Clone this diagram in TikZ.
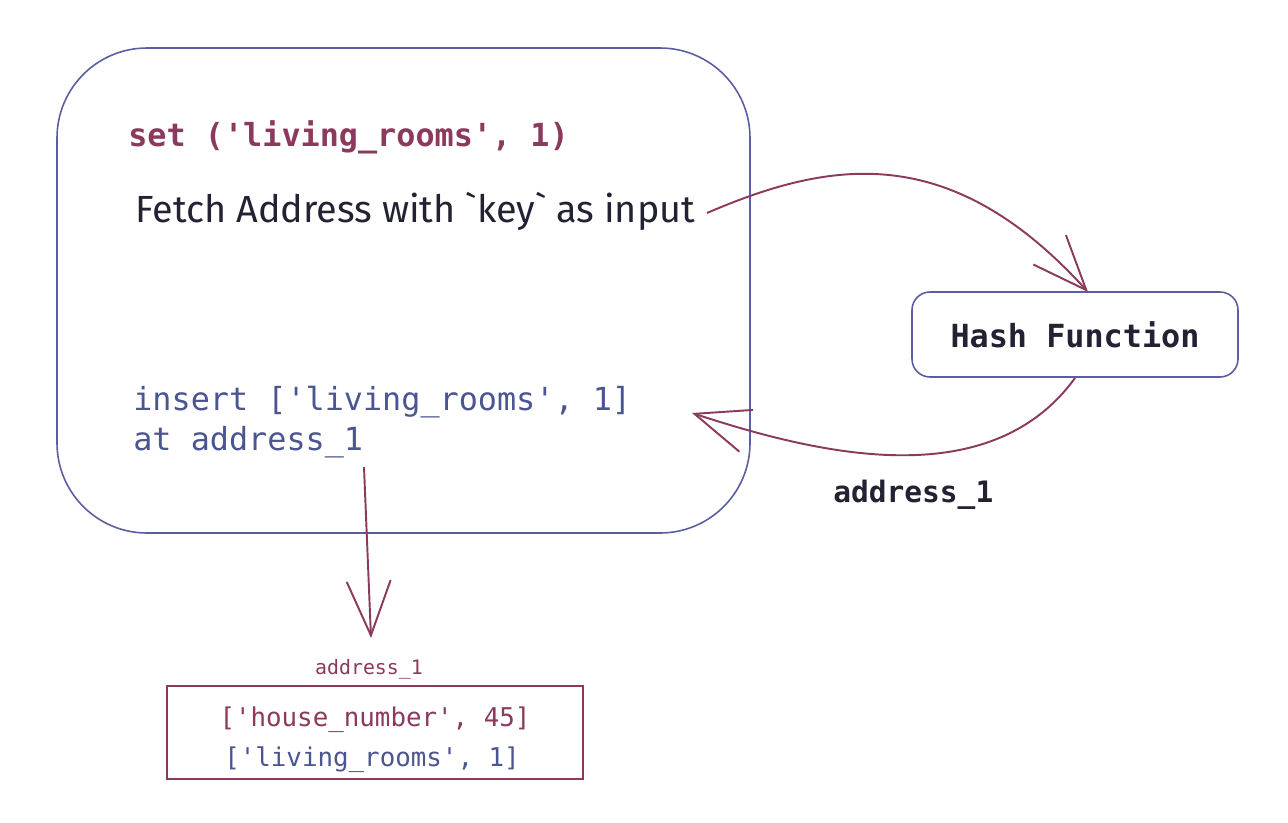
\documentclass[tikz,border=0pt]{standalone}
\usepackage{fontspec}
\setmonofont{DejaVu Sans Mono}
\newfontfamily\handfont{Fira Sans}
\usetikzlibrary{arrows.meta}
\definecolor{maroon}{HTML}{8B3A5E}
\definecolor{bluegrey}{HTML}{4B5592}
\definecolor{boxblue}{HTML}{5A5EA0}
\definecolor{darktext}{HTML}{222233}
\tikzset{
  conn/.style={draw=maroon, line width=1.1pt, -{Straight Barb[length=31pt,width=25pt]}},
  codetxt/.style={inner sep=0pt, anchor=base west, font=\fontsize{18.1}{20}\ttfamily},
  bigbox/.style={draw=boxblue, line width=0.9pt, rounded corners=1.8cm},
}
\begin{document}
\begin{tikzpicture}[x=0.02cm, y=-0.02cm]
\path[fill=white] (0,0) rectangle (1288,822);
\useasboundingbox (0,0) rectangle (1288,822);
% main rounded box
\draw[bigbox] (57,48) rectangle (750,533);
% texts in main box
\node[codetxt, text=maroon, font=\fontsize{18.1}{20}\ttfamily\bfseries] (set) at (128,146) {set ('living\_rooms', 1)};
\node[inner sep=0pt, anchor=base west, text=darktext, font=\fontsize{21.5}{23}\handfont] (fetch) at (135,222) {Fetch Address with `key` as input};
\node[codetxt, text=bluegrey] (ins) at (133,410) {insert ['living\_rooms', 1]};
\node[codetxt, text=bluegrey] (at) at (133,450) {at address\_1};
% hash function box
\node[draw=boxblue, line width=0.9pt, rounded corners=0.36cm, minimum width=326*0.02cm, minimum height=85*0.02cm, text=darktext, font=\fontsize{18.1}{20}\ttfamily\bfseries] (hash) at (1075,334.5) {Hash Function};
\node[inner sep=0pt, anchor=base west, text=darktext, font=\fontsize{16.8}{18}\ttfamily\bfseries] (addrlbl) at (833,502) {address\_1};
% bottom box
\node[inner sep=0pt, anchor=base, text=maroon, font=\fontsize{11.3}{12}\ttfamily] (addrsmall) at (369,674) {address\_1};
\draw[draw=maroon, line width=1pt] (167,686) rectangle (583,779);
\node[inner sep=0pt, anchor=base, text=maroon, font=\fontsize{14.7}{16}\ttfamily] (hn) at (375,726) {['house\_number', 45]};
\node[inner sep=0pt, anchor=base, text=bluegrey, font=\fontsize{14.7}{16}\ttfamily] (lr) at (372,766) {['living\_rooms', 1]};
% connector coordinates
\coordinate (c1s) at (707,213);
\coordinate (c1e) at (1088,292);
\coordinate (c2s) at (1075,378);
\coordinate (c2e) at (692,413);
\coordinate (c3s) at (364,467);
\coordinate (c3e) at (371,638);
% connectors
\draw[conn] (c1s) .. controls (830,160) and (950,140) .. (c1e);
\draw[conn] (c2s) .. controls (990,495) and (820,455) .. (c2e);
\draw[conn] (c3s) -- (c3e);
\end{tikzpicture}
\end{document}
